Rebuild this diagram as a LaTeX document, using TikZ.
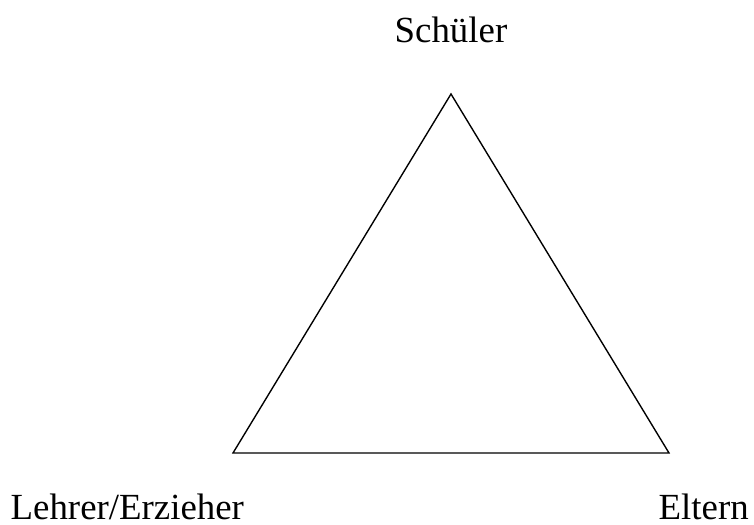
\documentclass[tikz,border=0pt]{standalone}
\usepackage{fontspec}
\setmainfont{Liberation Serif}
\usepackage{tikz}

\begin{document}
\begin{tikzpicture}[x=0.3257pt, y=0.3257pt, line width=0.45pt,
        label/.style={inner sep=0pt, font=\fontsize{12}{14}\selectfont}]
        \useasboundingbox (0,0) rectangle (754,524);
        % Corners
        \coordinate (top) at (451,430);
        \coordinate (left) at (233,71);
        \coordinate (right) at (669,71);
        % Triangle
        \draw (top) -- (left) -- (right) -- cycle;
        % Labels
        \node[label, anchor=base] (schueler) at (451,481) {Schüler};
        \node[label, anchor=base west] (lehrer) at (10,5) {Lehrer/Erzieher};
        \node[label, anchor=base west] (eltern) at (658,5) {Eltern};
    \end{tikzpicture}
\end{document}
